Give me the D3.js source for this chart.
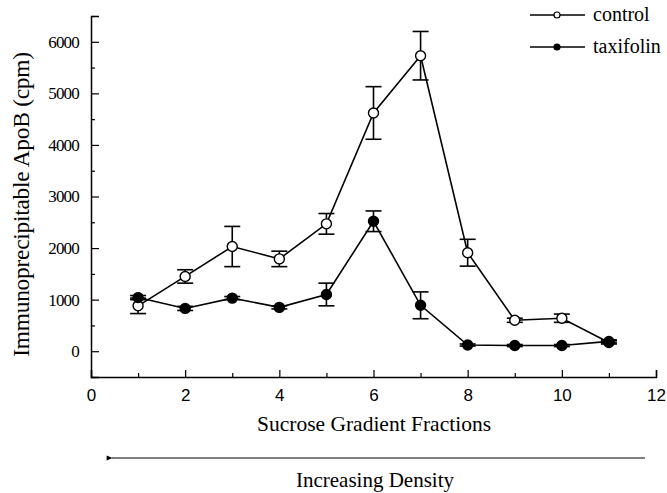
<!DOCTYPE html>
<html lang="en">
<head>
    <meta charset="UTF-8">
    <title>ApoB sucrose gradient</title>
    <style>
      body { margin: 0; background: #fff; }
      svg { display: block; }
    </style>
</head>
<body>
    <svg></svg>
    <script src="https://d3js.org/d3.v7.min.js"></script>
    <script>
      const fractions = [1, 2, 3, 4, 5, 6, 7, 8, 9, 10, 11];
      const controlMean = [880, 1450, 2030, 1790, 2470, 4620, 5730, 1910, 600, 640, 170];
      const controlErr  = [150, 130, 390, 150, 200, 510, 470, 260, 40, 80, 30];
      const taxifolinMean = [1040, 830, 1030, 850, 1100, 2520, 890, 120, 110, 110, 190];
      const taxifolinErr  = [40, 40, 30, 30, 220, 200, 260, 20, 20, 20, 30];
      const xTicks = [0, 2, 4, 6, 8, 10, 12];
      const yTicks = [0, 1000, 2000, 3000, 4000, 5000, 6000];

      const width = 667;
      const height = 493;
      const serif = '"Liberation Serif", "DejaVu Serif", serif';
      const sans = '"Liberation Sans", Arial, sans-serif';

      const svg = d3.select('svg').attr('width', width).attr('height', height);

      const xScale = d3.scaleLinear().domain([0, 12]).range([91, 656]);
      const yScale = d3.scaleLinear().domain([-500, 6500]).range([377, 16]);

      // axes: ticks point inward
      const xAxis = g => g
          .attr("transform", `translate(0,${yScale(-500)})`)
          .call(d3.axisBottom(xScale).tickValues(xTicks).tickSize(-7).tickPadding(12).tickFormat(d3.format("d")))
          .call(g => g.selectAll(".tick text").attr("font-family", sans).attr("font-size", 17))
          .call(g => g.select(".domain").attr("stroke-width", 1.5));

      const xMinor = g => g
          .attr("transform", `translate(0,${yScale(-500)})`)
          .call(d3.axisBottom(xScale).tickValues([1, 3, 5, 7, 9, 11]).tickSize(-4).tickFormat(""))
          .call(g => g.select(".domain").remove());

      const yAxis = g => g
          .attr("transform", `translate(${xScale(0)},0)`)
          .call(d3.axisLeft(yScale).tickValues(yTicks).tickSize(-8).tickPadding(12).tickFormat(d3.format("d")))
          .call(g => g.selectAll(".tick text").attr("font-family", serif).attr("font-size", 17)
              .attr("letter-spacing", -0.8))
          .call(g => g.select(".domain").attr("stroke-width", 1.5));

      const yMinor = g => g
          .attr("transform", `translate(${xScale(0)},0)`)
          .call(d3.axisLeft(yScale).tickValues([-500, 500, 1500, 2500, 3500, 4500, 5500, 6500]).tickSize(-4).tickFormat(""))
          .call(g => g.select(".domain").remove());

      svg.append("g").attr("class", "x-axis").call(xAxis);
      svg.append("g").call(xMinor);
      svg.append("g").attr("class", "y-axis").call(yAxis);
      svg.append("g").call(yMinor);
      svg.selectAll(".tick line").attr("stroke-width", 1.2);

      const series = [
        {name: "control", mean: controlMean, err: controlErr, fill: "#fff"},
        {name: "taxifolin", mean: taxifolinMean, err: taxifolinErr, fill: "#000"}
      ];

      const line = d3.line().x(d => xScale(d.x)).y(d => yScale(d.y));

      series.forEach(s => {
        const pts = fractions.map((f, i) => ({x: f, y: s.mean[i], e: s.err[i]}));
        const g = svg.append("g").attr("class", s.name);

        g.append("path")
            .datum(pts)
            .attr("fill", "none")
            .attr("stroke", "#000")
            .attr("stroke-width", 1.6)
            .attr("d", line);

        const eb = g.selectAll(".err").data(pts).join("g").attr("class", "err")
            .attr("stroke", "#000").attr("stroke-width", 1.6);
        eb.append("line")
            .attr("x1", d => xScale(d.x)).attr("x2", d => xScale(d.x))
            .attr("y1", d => yScale(d.y - d.e)).attr("y2", d => yScale(d.y + d.e));
        eb.append("line")
            .attr("x1", d => xScale(d.x) - 8).attr("x2", d => xScale(d.x) + 8)
            .attr("y1", d => yScale(d.y + d.e)).attr("y2", d => yScale(d.y + d.e));
        eb.append("line")
            .attr("x1", d => xScale(d.x) - 8).attr("x2", d => xScale(d.x) + 8)
            .attr("y1", d => yScale(d.y - d.e)).attr("y2", d => yScale(d.y - d.e));

        g.selectAll("circle").data(pts).join("circle")
            .attr("cx", d => xScale(d.x))
            .attr("cy", d => yScale(d.y))
            .attr("r", 5)
            .attr("fill", s.fill)
            .attr("stroke", "#000")
            .attr("stroke-width", 1.4);
      });

      // legend
      const legend = svg.append("g").attr("class", "legend");
      series.forEach((s, i) => {
        const y = 15 + i * 32;
        legend.append("line").attr("x1", 530).attr("x2", 585).attr("y1", y).attr("y2", y)
            .attr("stroke", "#000").attr("stroke-width", 1.4);
        legend.append("circle").attr("cx", 557).attr("cy", y).attr("r", 3)
            .attr("fill", s.fill).attr("stroke", "#000").attr("stroke-width", 1.2);
        legend.append("text").attr("x", 593).attr("y", y + 6)
            .attr("font-family", serif).attr("font-size", 20).text(s.name);
      });

      // titles
      svg.append("text")
          .attr("transform", `translate(29,${(yScale(-500) + yScale(6500)) / 2 + 8}) rotate(-90)`)
          .attr("text-anchor", "middle")
          .attr("font-family", serif).attr("font-size", 23.5)
          .attr("letter-spacing", -0.3)
          .text("Immunoprecipitable ApoB (cpm)");

      svg.append("text")
          .attr("x", 374).attr("y", 431)
          .attr("text-anchor", "middle")
          .attr("font-family", serif).attr("font-size", 21.5)
          .text("Sucrose Gradient Fractions");

      svg.append("defs").append("marker")
          .attr("id", "arrow").attr("viewBox", "0 0 10 10")
          .attr("refX", 1).attr("refY", 5)
          .attr("markerWidth", 8).attr("markerHeight", 5)
          .attr("orient", "auto-start-reverse")
        .append("path").attr("d", "M0,5 L10,1 L10,9 Z").attr("fill", "#000");

      svg.append("line")
          .attr("x1", 645).attr("x2", 112).attr("y1", 458).attr("y2", 458)
          .attr("stroke", "#000").attr("stroke-width", 1.2)
          .attr("marker-end", "url(#arrow)");

      svg.append("text")
          .attr("x", 375).attr("y", 487)
          .attr("text-anchor", "middle")
          .attr("font-family", serif).attr("font-size", 21)
          .text("Increasing Density");
    </script>
</body>
</html>
